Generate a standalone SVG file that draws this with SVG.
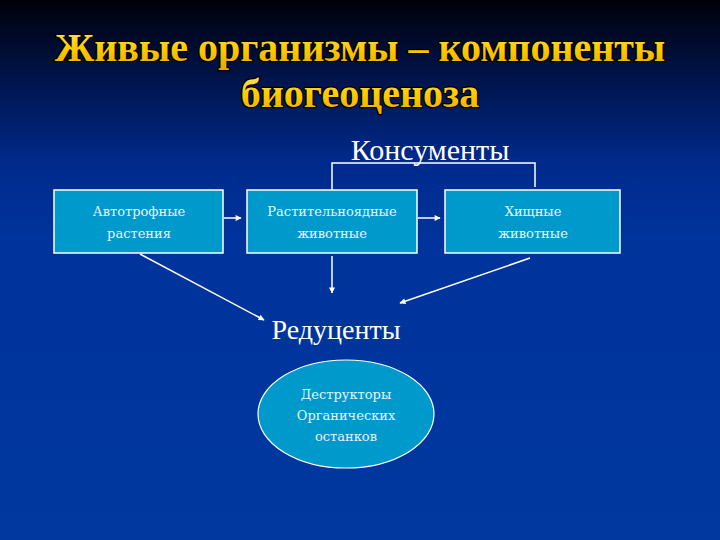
<svg xmlns="http://www.w3.org/2000/svg" width="720" height="540" viewBox="0 0 720 540">
<defs>
<linearGradient id="bg" x1="0" y1="0" x2="0" y2="1">
<stop offset="0" stop-color="#00000a"/>
<stop offset="0.12" stop-color="#001040"/>
<stop offset="0.3" stop-color="#002a8c"/>
<stop offset="0.45" stop-color="#00339c"/>
<stop offset="1" stop-color="#00389f"/>
</linearGradient>
<linearGradient id="gold" x1="0" y1="0" x2="0" y2="1">
<stop offset="0" stop-color="#ffe680"/>
<stop offset="0.5" stop-color="#ffcc00"/>
<stop offset="1" stop-color="#e6a800"/>
</linearGradient>
<marker id="ah" viewBox="0 0 10 10" refX="9" refY="5" markerWidth="7" markerHeight="6" orient="auto" markerUnits="userSpaceOnUse">
<path d="M0,0 L10,5 L0,10 Z" fill="#ffffff"/>
</marker>
</defs>
<style>
.title{font-family:"Liberation Serif","Times New Roman",serif;font-weight:bold;font-size:40px;text-anchor:middle;fill:url(#gold);stroke:#000000;stroke-width:2.5;paint-order:stroke;stroke-linejoin:round}
.head{font-family:"Liberation Serif","Times New Roman",serif;fill:#ffffff;text-anchor:middle}
.box{fill:#0099cc;stroke:#ffffff;stroke-width:1.5}
.lbl{font-family:"DejaVu Serif","Liberation Serif",serif;font-size:13px;fill:#e6f4ff;text-anchor:middle}
.conn{stroke:#ffffff;stroke-width:1.5;fill:none}
.arr{stroke:#ffffff;stroke-width:1.5;fill:none;marker-end:url(#ah)}
</style>
<rect x="0" y="0" width="720" height="540" fill="url(#bg)"/>
<g id="title">
<text class="title" x="360" y="61">Живые организмы – компоненты</text>
<text class="title" x="360" y="107">биогеоценоза</text>
</g>
<g id="consumers">
<text class="head" x="430" y="160" font-size="30">Консументы</text>
</g>
<g id="autotrophs">
<rect class="box" x="54" y="190" width="169" height="63"/>
<text class="lbl" x="139" y="216">Автотрофные</text>
<text class="lbl" x="139" y="238">растения</text>
</g>
<g id="herbivores">
<rect class="box" x="247" y="190" width="170" height="63"/>
<text class="lbl" x="332" y="216">Растительноядные</text>
<text class="lbl" x="332" y="238">животные</text>
</g>
<g id="predators">
<rect class="box" x="445" y="190" width="175" height="63"/>
<text class="lbl" x="533" y="216">Хищные</text>
<text class="lbl" x="533" y="238">животные</text>
</g>
<g id="reducers">
<text class="head" x="336" y="339" font-size="28">Редуценты</text>
</g>
<g id="destructors">
<ellipse cx="346" cy="414" rx="88" ry="54" fill="#0099cc" stroke="#ffffff" stroke-width="1.2"/>
<text class="lbl" x="346" y="399">Деструкторы</text>
<text class="lbl" x="346" y="420">Органических</text>
<text class="lbl" x="346" y="441">останков</text>
</g>
<g id="connectors">
<polyline class="conn" points="332,190 332,163 535,163 535,187"/>
<line class="arr" x1="224" y1="218" x2="241" y2="218"/>
<line class="arr" x1="418" y1="218" x2="440" y2="218"/>
<line class="arr" x1="140" y1="254" x2="264" y2="320"/>
<line class="arr" x1="332" y1="256" x2="332" y2="293"/>
<line class="arr" x1="530" y1="258" x2="400" y2="303"/>
</g>
</svg>
